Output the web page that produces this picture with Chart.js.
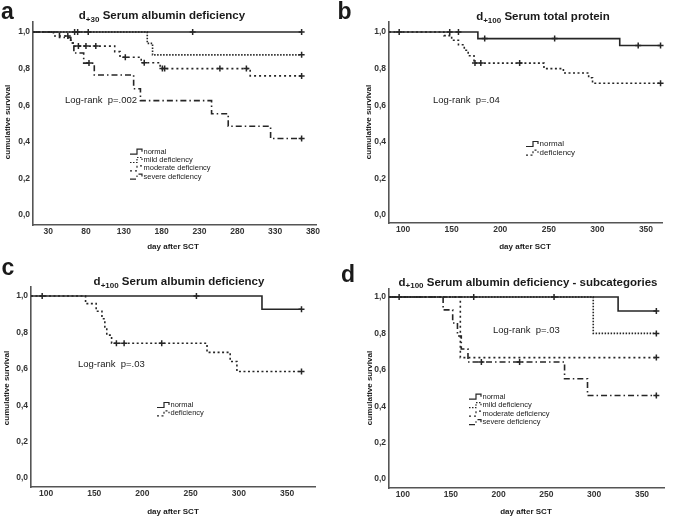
<!DOCTYPE html>
<html>
<head>
<meta charset="utf-8">
<script src="https://cdn.jsdelivr.net/npm/chart.js@4.4.1/dist/chart.umd.min.js"></script>
<style>
  html, body { margin: 0; padding: 0; background: #fff; }
  #wrap { position: relative; width: 676px; height: 519px; }
  #wrap canvas { position: absolute; left: 0; top: 0; }
</style>
</head>
<body>
<div id="wrap">
  <canvas id="pa" width="676" height="519"></canvas>
  <canvas id="pb" width="676" height="519"></canvas>
  <canvas id="pc" width="676" height="519"></canvas>
  <canvas id="pd" width="676" height="519"></canvas>
</div>
<script>
// ---- data (day after SCT, cumulative survival) ----
const yTickValues = [0, 0.2, 0.4, 0.6, 0.8, 1.0];
const aDayTicks = [30, 80, 130, 180, 230, 280, 330, 380];
const bcdDayTicks = [100, 150, 200, 250, 300, 350];

// a: d+30 serum albumin deficiency
const aNormalDays = [10, 365];
const aNormalSurv = [1, 1];
const aNormalCens = [65, 69, 83, 221, 365];
const aMildDays = [10, 161, 168, 365];
const aMildSurv = [1, 0.938, 0.875, 0.875];
const aMildCens = [365];
const aModerateDays = [10, 37, 57, 63, 118, 125, 153, 178, 297, 365];
const aModerateSurv = [1, 0.978, 0.955, 0.923, 0.893, 0.862, 0.832, 0.80, 0.76, 0.76];
const aModerateCens = [56, 70, 80, 93, 132, 157, 181, 184, 257, 292, 365];
const aSevereDays = [10, 45, 60, 64, 77, 91, 143, 152, 246, 268, 324, 365];
const aSevereSurv = [1, 0.97, 0.94, 0.885, 0.83, 0.765, 0.69, 0.625, 0.553, 0.485, 0.418, 0.418];
const aSevereCens = [84, 365];

// b: d+100 serum total protein
const bNormalDays = [85.5, 177, 323, 365];
const bNormalSurv = [1, 0.964, 0.926, 0.926];
const bNormalCens = [96, 148, 157, 184, 256, 342, 365];
const bDefDays = [85.5, 142, 150, 157, 163, 167, 173, 245, 265, 291, 295, 365];
const bDefSurv = [1, 0.98, 0.955, 0.93, 0.90, 0.87, 0.83, 0.80, 0.776, 0.75, 0.72, 0.72];
const bDefCens = [174, 180, 220, 365];

// c: d+100 serum albumin deficiency
const cNormalDays = [84.4, 324, 365];
const cNormalSurv = [1, 0.927, 0.927];
const cNormalCens = [96, 256, 365];
const cDefDays = [84.4, 141, 152, 158, 161, 163, 168, 267, 291, 298, 365];
const cDefSurv = [1, 0.958, 0.916, 0.875, 0.83, 0.785, 0.74, 0.69, 0.64, 0.585, 0.585];
const cDefCens = [173, 181, 220, 365];

// d: d+100 serum albumin deficiency - subcategories
const dNormalDays = [85.4, 325, 365];
const dNormalSurv = [1, 0.923, 0.923];
const dNormalCens = [96, 174, 258, 365];
const dMildDays = [85.4, 299, 365];
const dMildSurv = [1, 0.80, 0.80];
const dMildCens = [365];
const dModerateDays = [85.4, 160, 365];
const dModerateSurv = [1, 0.667, 0.667];
const dModerateCens = [365];
const dSevereDays = [85.4, 142, 152, 157, 161, 168, 269, 293, 365];
const dSevereSurv = [1, 0.929, 0.857, 0.786, 0.714, 0.643, 0.551, 0.459, 0.459];
const dSevereCens = [182, 222, 365];

const fourGroups = ['normal', 'mild deficiency', 'moderate deficiency', 'severe deficiency'];
const twoGroups = ['normal', 'deficiency'];

// ---- styling ----
const FONT = "'Liberation Sans', Arial, sans-serif";
const INK = '#262626';
const AXIS = '#555';
const dashes = {
  normal: [],
  mild: [1.5, 1.5],
  moderate: [2, 3],
  severe: [6, 3, 1.5, 3],
  deficiency: [2, 2.5]
};

function survAt(days, surv, t) {
  let v = surv[0];
  days.forEach((d, i) => { if (d <= t) v = surv[i]; });
  return v;
}

function drawTexts(ctx, p) {
  ctx.save();
  ctx.fillStyle = '#1a1a1a';
  ctx.textAlign = 'left';
  ctx.textBaseline = 'alphabetic';

  // panel letter
  ctx.font = 'bold 23px ' + FONT;
  ctx.fillText(p.letter, p.letterPos[0], p.letterPos[1]);

  // title with subscript
  const big = 'bold 11.5px ' + FONT, small = 'bold 8px ' + FONT;
  ctx.font = big; const w1 = ctx.measureText('d').width;
  ctx.font = small; const w2 = ctx.measureText(p.sub).width;
  ctx.font = big; const w3 = ctx.measureText(' ' + p.title).width;
  let x = p.titlePos[0] - (w1 + w2 + w3) / 2;
  const by = p.titlePos[1];
  ctx.font = big; ctx.fillText('d', x, by); x += w1;
  ctx.font = small; ctx.fillText(p.sub, x, by + 2.5); x += w2;
  ctx.font = big; ctx.fillText(' ' + p.title, x, by);

  // axis titles
  ctx.font = 'bold 8px ' + FONT;
  ctx.textAlign = 'center';
  ctx.textBaseline = 'middle';
  ctx.fillText('day after SCT', p.xTitlePos[0], p.xTitlePos[1]);
  ctx.save();
  ctx.translate(p.yTitlePos[0], p.yTitlePos[1]);
  ctx.rotate(-Math.PI / 2);
  ctx.fillText('cumulative survival', 0, 0);
  ctx.restore();

  // log-rank
  ctx.textAlign = 'left';
  ctx.font = '9.5px ' + FONT;
  ctx.fillText(p.logRank, p.logRankPos[0], p.logRankPos[1]);

  // legend
  ctx.font = p.legendFont + 'px ' + FONT;
  p.groups.forEach((g, i) => {
    const lx = p.legendPos[0], ly = p.legendPos[1] + i * p.legendStep;
    ctx.save();
    ctx.strokeStyle = INK;
    ctx.lineWidth = 1.2;
    ctx.setLineDash(dashes[g.style]);
    ctx.beginPath();
    ctx.moveTo(lx, ly + 2.5);
    ctx.lineTo(lx + 7, ly + 2.5);
    ctx.lineTo(lx + 7, ly - 2.5);
    ctx.lineTo(lx + 12, ly - 2.5);
    ctx.lineTo(lx + 12, ly);
    ctx.stroke();
    ctx.restore();
    ctx.fillText(g.label, lx + 13.5, ly);
  });
  ctx.restore();
}

function makePanel(id, p) {
  const datasets = [];
  p.groups.forEach(g => {
    datasets.push({
      label: g.label,
      data: g.days.map((d, i) => ({ x: d, y: g.surv[i] })),
      stepped: true,
      borderColor: INK,
      borderWidth: 1.6,
      borderDash: dashes[g.style],
      pointRadius: 0,
      fill: false,
      clip: false
    });
    datasets.push({
      label: g.label + ' censored',
      data: g.cens.map(d => ({ x: d, y: survAt(g.days, g.surv, d) })),
      showLine: false,
      pointStyle: 'cross',
      pointRadius: 3,
      pointBorderColor: INK,
      pointBorderWidth: 1.5,
      clip: false
    });
  });

  const tickFont = { family: FONT, size: 8.5, weight: 'bold' };
  const [L, T, R, B] = p.area;

  new Chart(document.getElementById(id), {
    type: 'line',
    data: { datasets: datasets },
    options: {
      responsive: false,
      animation: false,
      events: [],
      layout: { padding: { left: L - 25, top: T, right: 676 - R, bottom: 519 - B - 20 } },
      plugins: { legend: { display: false }, tooltip: { enabled: false }, title: { display: false } },
      scales: {
        x: {
          type: 'linear',
          min: p.xRange[0],
          max: p.xRange[1],
          afterBuildTicks: s => { s.ticks = p.xTicks.map(v => ({ value: v })); },
          afterFit: s => { s.height = 20; },
          grid: { display: false, drawTicks: false },
          border: { display: true, color: AXIS, width: 1.6 },
          ticks: { font: tickFont, color: '#333', padding: 2, maxRotation: 0, autoSkip: false }
        },
        y: {
          type: 'linear',
          min: p.yRange[0],
          max: p.yRange[1],
          afterBuildTicks: s => { s.ticks = yTickValues.map(v => ({ value: v })); },
          afterFit: s => { s.width = 25; },
          grid: { display: false, drawTicks: false },
          border: { display: true, color: AXIS, width: 1.6 },
          ticks: {
            font: tickFont, color: '#333', padding: 3,
            callback: v => v.toFixed(1).replace('.', ',')
          }
        }
      }
    },
    plugins: [{ id: 'panelText', afterDraw: chart => drawTexts(chart.ctx, p) }]
  });
}

makePanel('pa', {
  letter: 'a', letterPos: [1, 18.5],
  sub: '+30', title: 'Serum albumin deficiency', titlePos: [162, 19],
  area: [33, 22, 316, 225], xRange: [10, 384], yRange: [-0.0546, 1.0546], xTicks: aDayTicks,
  xTitlePos: [173, 247], yTitlePos: [8, 122],
  logRank: 'Log-rank  p=.002', logRankPos: [65, 100],
  legendPos: [130, 151.7], legendStep: 8.3, legendFont: 7.5,
  groups: [
    { label: fourGroups[0], style: 'normal', days: aNormalDays, surv: aNormalSurv, cens: aNormalCens },
    { label: fourGroups[1], style: 'mild', days: aMildDays, surv: aMildSurv, cens: aMildCens },
    { label: fourGroups[2], style: 'moderate', days: aModerateDays, surv: aModerateSurv, cens: aModerateCens },
    { label: fourGroups[3], style: 'severe', days: aSevereDays, surv: aSevereSurv, cens: aSevereCens }
  ]
});

makePanel('pb', {
  letter: 'b', letterPos: [337.5, 18.5],
  sub: '+100', title: 'Serum total protein', titlePos: [543, 20],
  area: [389, 22, 662, 223], xRange: [85.5, 366.5], yRange: [-0.0437, 1.0546], xTicks: bcdDayTicks,
  xTitlePos: [525, 247], yTitlePos: [369, 122],
  logRank: 'Log-rank  p=.04', logRankPos: [433, 100],
  legendPos: [526, 144], legendStep: 8.7, legendFont: 8,
  groups: [
    { label: twoGroups[0], style: 'normal', days: bNormalDays, surv: bNormalSurv, cens: bNormalCens },
    { label: twoGroups[1], style: 'deficiency', days: bDefDays, surv: bDefSurv, cens: bDefCens }
  ]
});

makePanel('pc', {
  letter: 'c', letterPos: [1.5, 275],
  sub: '+100', title: 'Serum albumin deficiency', titlePos: [179, 285],
  area: [31, 286.7, 315, 487], xRange: [84.4, 379], yRange: [-0.0495, 1.051], xTicks: bcdDayTicks,
  xTitlePos: [173, 512], yTitlePos: [7, 388],
  logRank: 'Log-rank  p=.03', logRankPos: [78, 364],
  legendPos: [157, 405], legendStep: 8.3, legendFont: 7.5,
  groups: [
    { label: twoGroups[0], style: 'normal', days: cNormalDays, surv: cNormalSurv, cens: cNormalCens },
    { label: twoGroups[1], style: 'deficiency', days: cDefDays, surv: cDefSurv, cens: cDefCens }
  ]
});

makePanel('pd', {
  letter: 'd', letterPos: [341, 281.5],
  sub: '+100', title: 'Serum albumin deficiency - subcategories', titlePos: [528, 285.7],
  area: [389, 288.3, 664, 488], xRange: [85.4, 373], yRange: [-0.0495, 1.0478], xTicks: bcdDayTicks,
  xTitlePos: [526, 512], yTitlePos: [369.5, 388],
  logRank: 'Log-rank  p=.03', logRankPos: [493, 330],
  legendPos: [469, 396.7], legendStep: 8.5, legendFont: 7.5,
  groups: [
    { label: fourGroups[0], style: 'normal', days: dNormalDays, surv: dNormalSurv, cens: dNormalCens },
    { label: fourGroups[1], style: 'mild', days: dMildDays, surv: dMildSurv, cens: dMildCens },
    { label: fourGroups[2], style: 'moderate', days: dModerateDays, surv: dModerateSurv, cens: dModerateCens },
    { label: fourGroups[3], style: 'severe', days: dSevereDays, surv: dSevereSurv, cens: dSevereCens }
  ]
});
</script>
</body>
</html>
